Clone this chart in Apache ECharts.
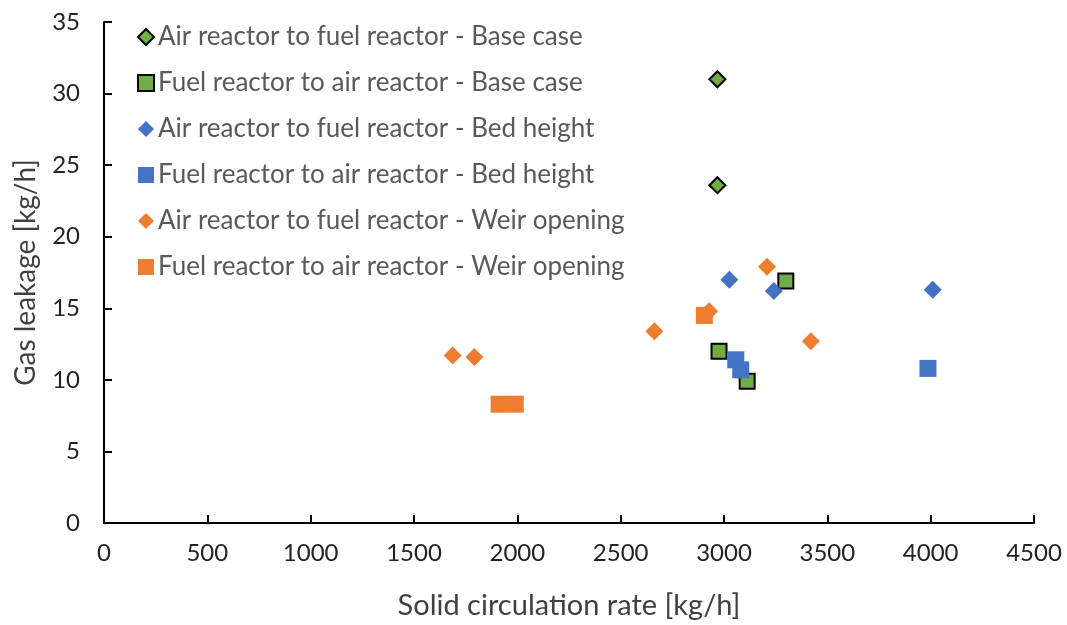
<!DOCTYPE html>
<html>
<head>
<meta charset="utf-8">
<script src="https://cdn.jsdelivr.net/npm/echarts@6/dist/echarts.min.js"></script>
<style>
  html, body { margin: 0; padding: 0; background: #fff; }
  #chart { width: 1067px; height: 625px; }
</style>
</head>
<body>
<div id="chart"></div>
<script>
// Solid circulation rate [kg/h] vs gas leakage [kg/h]
var xTicks = [0, 500, 1000, 1500, 2000, 2500, 3000, 3500, 4000, 4500];
var yTicks = [0, 5, 10, 15, 20, 25, 30, 35];

var arToFrBase = [[2968, 31.0], [2968, 23.6]];
var frToArBase = [[3299, 16.9], [2976, 12.0], [3112, 9.9]];
var arToFrBed  = [[3026, 17.0], [3241, 16.2], [4010, 16.3]];
var frToArBed  = [[3057, 11.4], [3081, 10.7], [3987, 10.8]];
var arToFrWeir = [[3208, 17.9], [2928, 14.8], [2663, 13.4], [3420, 12.7], [1687, 11.7], [1792, 11.6]];
var frToArWeir = [[2905, 14.5], [1912, 8.3], [1990, 8.3]];

var seriesNames = [
  'Air reactor to fuel reactor - Base case',
  'Fuel reactor to air reactor - Base case',
  'Air reactor to fuel reactor - Bed height',
  'Fuel reactor to air reactor - Bed height',
  'Air reactor to fuel reactor - Weir opening',
  'Fuel reactor to air reactor - Weir opening'
];

var GREEN = '#70AD47', BLUE = '#4472C4', ORANGE = '#ED7D31';
var FONT = 'Lato, "Open Sans", sans-serif';

function scatter(name, data, symbol, size, color, border) {
  return {
    name: name,
    type: 'scatter',
    data: data,
    symbol: symbol,
    symbolSize: size,
    itemStyle: {
      color: color,
      borderColor: border ? '#000' : color,
      borderWidth: border ? 2 : 0,
      opacity: 1
    },
    emphasis: { disabled: true }
  };
}

var chart = echarts.init(document.getElementById('chart'), null, { renderer: 'canvas' });
chart.setOption({
  animation: false,
  backgroundColor: '#fff',
  grid: { left: 104, right: 33, top: 22, bottom: 101, containLabel: false },
  legend: {
    orient: 'vertical',
    left: 132,
    top: 19,
    itemWidth: 16,
    itemHeight: 16,
    itemGap: 20,
    textStyle: { fontFamily: FONT, fontSize: 26, color: '#595959', lineHeight: 26, padding: [0, 0, 0, -1] },
    data: [
      { name: seriesNames[0], icon: 'diamond' },
      { name: seriesNames[1], icon: 'rect' },
      { name: seriesNames[2], icon: 'diamond' },
      { name: seriesNames[3], icon: 'rect' },
      { name: seriesNames[4], icon: 'diamond' },
      { name: seriesNames[5], icon: 'rect' }
    ]
  },
  xAxis: {
    type: 'value',
    min: xTicks[0],
    max: xTicks[xTicks.length - 1],
    interval: 500,
    name: 'Solid circulation rate [kg/h]',
    nameLocation: 'middle',
    nameGap: 68,
    nameTextStyle: { fontFamily: FONT, fontSize: 29, color: '#404040' },
    axisLine: { show: true, lineStyle: { color: '#000', width: 2 } },
    axisTick: { show: true, inside: true, length: 8, lineStyle: { color: '#000', width: 2 } },
    axisLabel: { fontFamily: FONT, fontSize: 24, color: '#222', margin: 18, formatter: function (v) { return String(v); } },
    splitLine: { show: false }
  },
  yAxis: {
    type: 'value',
    min: yTicks[0],
    max: yTicks[yTicks.length - 1],
    interval: 5,
    name: 'Gas leakage [kg/h]',
    nameLocation: 'middle',
    nameGap: 64,
    nameRotate: 90,
    nameTextStyle: { fontFamily: FONT, fontSize: 28, color: '#404040' },
    axisLine: { show: true, lineStyle: { color: '#000', width: 2 } },
    axisTick: { show: true, inside: true, length: 8, lineStyle: { color: '#000', width: 2 } },
    axisLabel: { fontFamily: FONT, fontSize: 24, color: '#222', margin: 24 },
    splitLine: { show: false }
  },
  series: [
    scatter(seriesNames[0], arToFrBase, 'diamond', 16, GREEN, true),
    scatter(seriesNames[1], frToArBase, 'rect', 15, GREEN, true),
    scatter(seriesNames[2], arToFrBed, 'diamond', 18, BLUE, false),
    scatter(seriesNames[3], frToArBed, 'rect', 17, BLUE, false),
    scatter(seriesNames[4], arToFrWeir, 'diamond', 18, ORANGE, false),
    scatter(seriesNames[5], frToArWeir, 'rect', 17, ORANGE, false)
  ]
});
</script>
</body>
</html>
